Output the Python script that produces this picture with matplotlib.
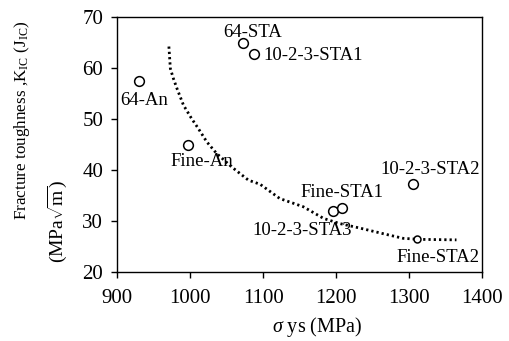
import matplotlib
matplotlib.use("Agg")
import matplotlib.pyplot as plt

plt.rcParams['font.family'] = ['Liberation Serif', 'DejaVu Serif']
plt.rcParams['mathtext.fontset'] = 'custom'
plt.rcParams['mathtext.rm'] = 'Liberation Serif'
plt.rcParams['mathtext.it'] = 'Liberation Serif:italic'

# Data points (yield strength MPa, fracture toughness)
pts_x = [930, 997, 1073, 1087, 1196, 1208, 1305]
pts_y = [57.5, 44.9, 64.8, 62.7, 32.0, 32.5, 37.3]
small_x = [1311]
small_y = [26.5]

# Dotted trend curve
curve_x = [971, 973, 977, 982, 991, 1002, 1011, 1023, 1036, 1057, 1080, 1096,
           1123, 1155, 1183, 1205, 1233, 1265, 1292, 1315, 1365]
curve_y = [64.2, 59.9, 58.0, 56.0, 52.7, 50.1, 48.2, 45.5, 43.3, 40.6, 38.0, 37.2,
           34.4, 32.8, 30.5, 29.5, 28.6, 27.5, 26.6, 26.4, 26.3]

labels = ["64-An", "Fine-An", "64-STA", "10-2-3-STA1", "Fine-STA1",
          "10-2-3-STA3", "10-2-3-STA2", "Fine-STA2"]
label_x = [905, 973, 1045, 1100, 1151, 1085, 1397, 1397]
label_y = [53.7, 41.6, 66.9, 62.5, 35.5, 28.2, 40.0, 22.9]
label_ha = ['left', 'left', 'left', 'left', 'left', 'left', 'right', 'right']

xticks = [900, 1000, 1100, 1200, 1300, 1400]
yticks = [20, 30, 40, 50, 60, 70]

fig = plt.figure(figsize=(5.09, 3.41), dpi=100)
ax = fig.add_axes([0.230, 0.2023, 0.717, 0.748])

ax.plot(curve_x, curve_y, color='black', linestyle=(0, (0.8, 1.1)), lw=2.0)
ax.plot(pts_x, pts_y, linestyle='none', marker='o', ms=7, mfc='white',
        mec='black', mew=1.1)
ax.plot(small_x, small_y, linestyle='none', marker='o', ms=5, mfc='white',
        mec='black', mew=1.1)

for t, x, y, ha in zip(labels, label_x, label_y, label_ha):
    ax.text(x, y, t, ha=ha, va='center', fontsize=13.5)

ax.set_xlim(900, 1400)
ax.set_ylim(20, 70)
ax.set_xticks(xticks)
ax.set_yticks(yticks)
ax.tick_params(direction='out', length=4, width=1, labelsize=15, colors='black')
ax.tick_params(axis='x', pad=8)
ax.tick_params(axis='y', pad=6)
for s in ax.spines.values():
    s.set_linewidth(1.0)
    s.set_color('black')

fig.text(0.043, 0.355, r"Fracture toughness ,K$_{\rm IC}$ (J$_{\rm IC}$)",
         rotation=90, ha='center', va='bottom', fontsize=12.3)
fig.text(0.112, 0.23, r"(MPa$\sqrt{\rm m}$)", rotation=90, ha='center',
         va='bottom', fontsize=14)
fig.text(0.623, 0.04, r"$\it{\sigma}$ ys (MPa)", ha='center', va='center',
         fontsize=14.5)

fig.savefig("out.png", dpi=100)
